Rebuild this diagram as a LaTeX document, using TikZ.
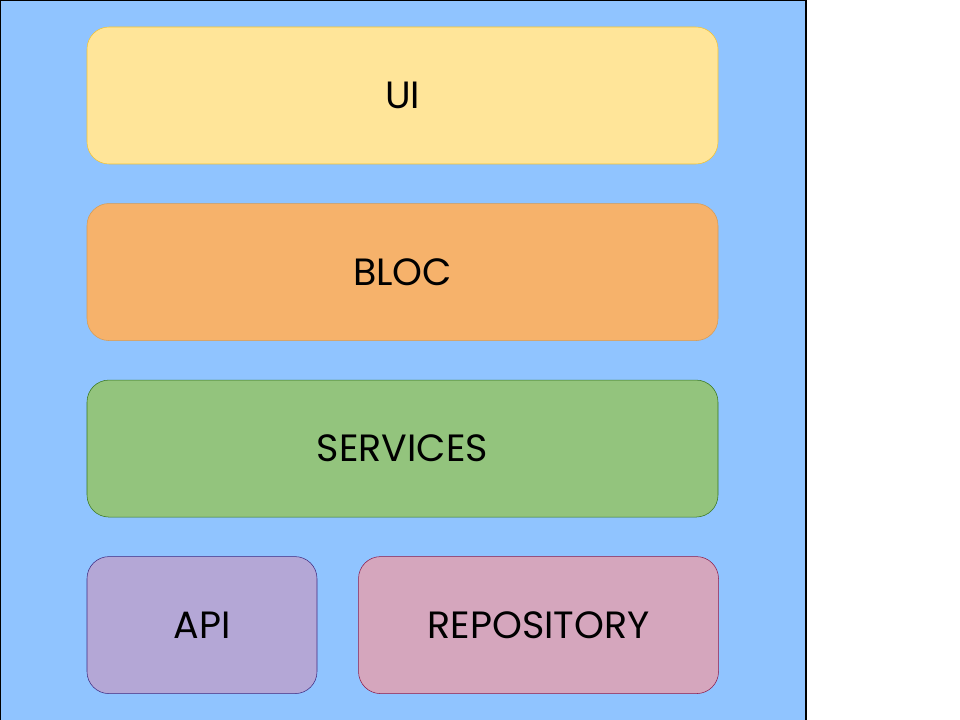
\documentclass[tikz,border=0pt]{standalone}
\usepackage{fontspec}
\setmainfont{Poppins}
\usetikzlibrary{positioning}
\definecolor{backblue}{HTML}{90C4FF}
\definecolor{uifill}{HTML}{FFE599}
\definecolor{uidraw}{HTML}{F1C232}
\definecolor{blocfill}{HTML}{F6B26B}
\definecolor{blocdraw}{HTML}{D79B52}
\definecolor{servfill}{HTML}{93C47D}
\definecolor{servdraw}{HTML}{38761D}
\definecolor{apifill}{HTML}{B4A7D6}
\definecolor{apidraw}{HTML}{3F2A80}
\definecolor{repofill}{HTML}{D5A6BD}
\definecolor{repodraw}{HTML}{8B1A4A}
\tikzstyle{layer}=[
	rectangle,
	rounded corners=16.5pt,
	thin,
	minimum height=102.75pt,
	inner sep=0pt,
	font=\fontsize{28.5}{32}\selectfont,
	node distance=29.25pt and 30.75pt
]
\tikzstyle{wide}=[layer, minimum width=473.25pt]

\begin{document}
\begin{tikzpicture}[x=0.75pt,y=-0.75pt]
\useasboundingbox (0,0) rectangle (960,720);
\filldraw [fill=backblue, draw=black, line width=1.5pt] (0,0) rectangle (806,724);
\node [wide, fill=uifill, draw=uidraw] (UI) at (402.5,95.5) {UI};
\node [wide, fill=blocfill, draw=blocdraw] (BLOC) [below=of UI] {BLOC};
\node [wide, fill=servfill, draw=servdraw] (SERVICES) [below=of BLOC] {SERVICES};
\node [layer, minimum width=172.5pt, fill=apifill, draw=apidraw] (API)
	[below=of SERVICES.south west, anchor=north west] {API};
\node [layer, minimum width=270pt, fill=repofill, draw=repodraw] (REPOSITORY)
	[right=of API] {REPOSITORY};
\end{tikzpicture}
\end{document}
